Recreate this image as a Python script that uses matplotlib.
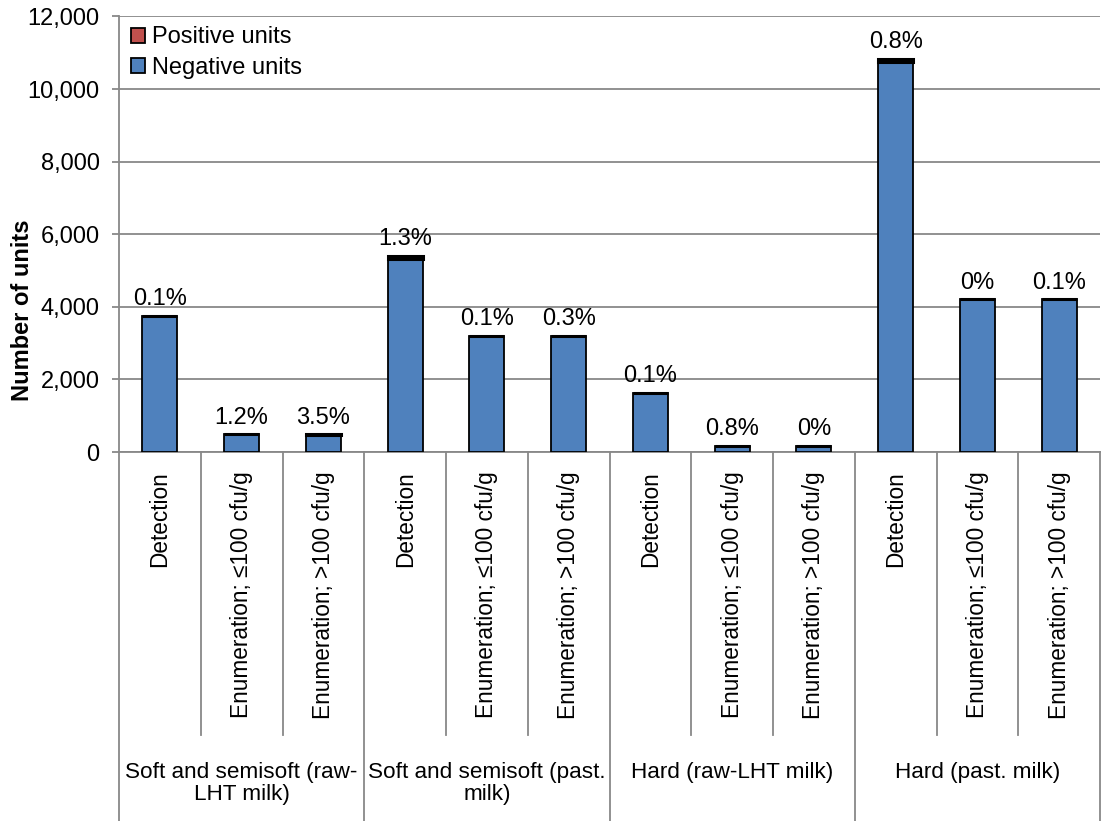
import matplotlib
matplotlib.use("Agg")
import matplotlib.pyplot as plt
from matplotlib.patches import Patch
from matplotlib.lines import Line2D

categories = ["Detection", "Enumeration; \u2264100 cfu/g", "Enumeration; >100 cfu/g"] * 4
groups = ["Soft and semisoft (raw-\nLHT milk)", "Soft and semisoft (past.\nmilk)",
          "Hard (raw-LHT milk)", "Hard (past. milk)"]
total_units = [3750, 490, 490, 5400, 3200, 3200, 1630, 165, 165, 10830, 4210, 4210]
pct_positive = [0.1, 1.2, 3.5, 1.3, 0.1, 0.3, 0.1, 0.8, 0.0, 0.8, 0.0, 0.1]
pct_labels = ["0.1%", "1.2%", "3.5%", "1.3%", "0.1%", "0.3%", "0.1%", "0.8%", "0%", "0.8%", "0%", "0.1%"]
yticks = [0, 2000, 4000, 6000, 8000, 10000, 12000]

positive = [t * p / 100 for t, p in zip(total_units, pct_positive)]
negative = [t - p for t, p in zip(total_units, positive)]

plt.rcParams['font.family'] = ['Liberation Sans', 'DejaVu Sans']
FS = 17
GRAY = '#888888'
BLUE = '#4F81BD'
RED = '#C0504D'

fig = plt.figure(figsize=(11.04, 8.21), dpi=100)
ax = fig.add_axes([119 / 1104, 1 - 452 / 821, 981 / 1104, (452 - 16.5) / 821])

x = list(range(len(categories)))
w = 0.43
ax.bar(x, negative, width=w, color=BLUE, edgecolor='black', linewidth=1.3, zorder=3)
ax.bar(x, positive, width=w, bottom=negative, color=RED, edgecolor='black', linewidth=2.2, zorder=3)

for xi, t, lab in zip(x, total_units, pct_labels):
    ax.annotate(lab, (xi, t), xytext=(0, 4), textcoords='offset points',
                ha='center', va='bottom', fontsize=FS)

ax.set_xlim(-0.5, len(categories) - 0.5)
ax.set_ylim(0, 12000)
ax.set_yticks(yticks)
ax.set_yticklabels([f"{v:,}" for v in yticks], fontsize=FS)
ax.yaxis.grid(True, color=GRAY, linewidth=1.3, zorder=0)
ax.set_axisbelow(True)
for s in ['top', 'right']:
    ax.spines[s].set_visible(False)
for s in ['left', 'bottom']:
    ax.spines[s].set_color(GRAY)
    ax.spines[s].set_linewidth(1.3)
ax.tick_params(axis='y', length=5, color=GRAY, width=1.3, pad=9)

ax.set_xticks(x)
ax.set_xticklabels(categories, rotation=90, fontsize=16.3)
ax.tick_params(axis='x', length=0, pad=14)

trans = ax.get_xaxis_transform()
h_px = 452 - 16.5
y_short = -(735 - 452) / h_px
y_long = -(821 - 452) / h_px
for b in [0.5, 1.5, 3.5, 4.5, 6.5, 7.5, 9.5, 10.5]:
    ax.add_line(Line2D([b, b], [0, y_short], transform=trans, color=GRAY,
                       linewidth=1.3, clip_on=False))
for b in [-0.5, 2.5, 5.5, 8.5, 11.5]:
    ax.add_line(Line2D([b, b], [0, y_long], transform=trans, color=GRAY,
                       linewidth=1.3, clip_on=False))

y_grp = -(762 - 452) / h_px
for gi, g in enumerate(groups):
    ax.text(gi * 3 + 1, y_grp, g, transform=trans, ha='center', va='top',
            fontsize=16.2, linespacing=1.08)

fig.text(23 / 1104, 1 - 310 / 821, "Number of units", rotation=90, ha='center',
         va='center', fontsize=FS, fontweight='bold')

handles = [Patch(facecolor=RED, edgecolor='black', linewidth=1.3, label='Positive units'),
           Patch(facecolor=BLUE, edgecolor='black', linewidth=1.3, label='Negative units')]
ax.legend(handles=handles, loc='upper left', bbox_to_anchor=(0.007, 0.988), frameon=False,
          fontsize=FS, handlelength=0.6, handleheight=0.6, handletextpad=0.3,
          labelspacing=0.35, borderaxespad=0.0, borderpad=0.2)

fig.savefig("out.png", dpi=100)
